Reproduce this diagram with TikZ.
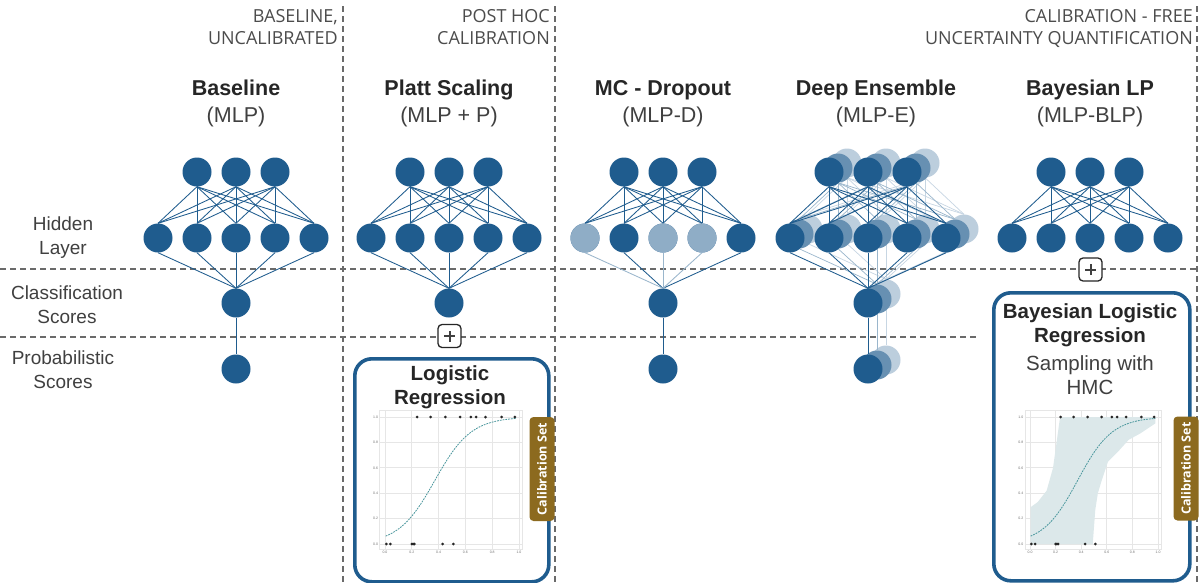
\documentclass[tikz,border=0pt]{standalone}
\usepackage{fontspec}
\setmainfont{Liberation Sans}
\newfontfamily\hdrfont{Open Sans}
\usetikzlibrary{calc}
\definecolor{nb}{HTML}{1F5C8E}
\definecolor{txt}{HTML}{404040}
\definecolor{hdrc}{HTML}{4C4C4C}
\definecolor{dashc}{HTML}{6A6A6A}
\definecolor{goldc}{HTML}{8C6A1F}
\definecolor{tealc}{HTML}{4A979D}
\definecolor{bandc}{HTML}{DCE8EA}
\definecolor{gridc}{HTML}{E6E6E6}

\newcommand\netlayers[5]{%
 \foreach \i in {1,2,3} {\node[neuron,#4] (#1t\i) at ({#2+(\i-2)*39},{172+#3}) {};}
 \foreach \i in {1,...,5} {\node[neuron,#4] (#1h\i) at ({#2+(\i-3)*39},{238+#3}) {};}
 \foreach \i in {1,2,3} {\foreach \j in {1,...,5} {\draw[#5] (#1t\i.south) -- (#1h\j.north);}}
}
\newcommand\netout[5]{%
 \node[neuron,#4] (#1c) at (#2,{303+#3}) {};
 \foreach \j in {1,...,5} {\draw[#5] (#1h\j.south) -- (#1c.north);}
}
\newcommand\netprob[5]{%
 \node[neuron,#4] (#1p) at (#2,{369+#3}) {};
 \draw[#5] (#1c.south) -- (#1p.north);
}
\newcommand\sigcurve{\draw[tealc, dash pattern=on 1.8pt off 1pt, line width=0.8pt, domain=0.005:0.98, samples=60] plot (\x, {1/(1+exp(-(-2.75+7.4*\x)))});}
\newcommand\calframe{%
 \fill[white] (-0.04,-0.045) rectangle (1.025,1.05);
 \foreach \v in {0,0.2,0.4,0.6,0.8,1} {\draw[gridc, line width=0.7pt] (\v,-0.045) -- (\v,1.05); \draw[gridc, line width=0.7pt] (-0.04,\v) -- (1.025,\v);}
 \draw[gridc, line width=0.7pt] (-0.04,-0.045) rectangle (1.025,1.05);
 \foreach \v/\l in {0/0.0,0.2/0.2,0.4/0.4,0.6/0.6,0.8/0.8,1/1.0} {\node[ticklab, anchor=east] at (-0.045,\v) {\l}; \node[ticklab, anchor=north] at (\v,-0.05) {\l};}
}
\newcommand\caldots{%
 \foreach \u in {0.24,0.34,0.45,0.56,0.64,0.68,0.75,0.87,0.97} {\fill[black!85] (\u,1) circle (1.5pt);}
 \foreach \u in {0.01,0.04,0.2,0.21,0.22,0.43,0.51} {\fill[black!85] (\u,0) circle (1.5pt);}
}

\begin{document}
\begin{tikzpicture}[x=1pt,y=-1pt,
 neuron/.style={circle, fill=nb, minimum size=29pt, inner sep=0pt},
 edge/.style={nb, line width=0.85pt},
 sepline/.style={dashc, line width=1.1pt, dash pattern=on 6pt off 4pt},
 hdr/.style={text=hdrc, font=\hdrfont\fontsize{18}{20}\selectfont, inner sep=0pt},
 ttl/.style={text=black!85, font=\bfseries\fontsize{21.5}{23}\selectfont, inner sep=0pt, anchor=base},
 sub/.style={text=txt, font=\fontsize{21.5}{23}\selectfont, inner sep=0pt, anchor=base},
 bxt/.style={text=black!85, font=\bfseries\fontsize{20.5}{22}\selectfont, inner sep=0pt, anchor=base},
 bxs/.style={text=txt, font=\fontsize{20.5}{22}\selectfont, inner sep=0pt, anchor=base},
 lbl/.style={text=txt, font=\fontsize{19}{21}\selectfont, inner sep=0pt, anchor=base},
 boxst/.style={draw=nb, line width=3.6pt, rounded corners=17pt, fill=white, inner sep=0pt},
 tabst/.style={fill=goldc, text=white, rounded corners=4pt, inner sep=0pt, minimum height=25pt, minimum width=104pt, font=\hdrfont\bfseries\fontsize{12.5}{12.5}\selectfont},
 ticklab/.style={text=black!55, font=\fontsize{3.5}{4}\selectfont, inner sep=0.8pt},
 plusbox/.style={draw=black!85, line width=1.3pt, rounded corners=4pt, fill=white, minimum size=23pt, inner sep=0pt,
   path picture={\draw[line width=2pt, black!75] ([xshift=-5.5pt]path picture bounding box.center) -- ([xshift=5.5pt]path picture bounding box.center) ([yshift=-5.5pt]path picture bounding box.center) -- ([yshift=5.5pt]path picture bounding box.center);}}
]
\useasboundingbox[fill=white] (0,0) rectangle (1201,582);

% separators
\coordinate (v1a) at (343,6); \coordinate (v1b) at (343,582);
\coordinate (v2a) at (555,6); \coordinate (v2b) at (555,582);
\coordinate (v3a) at (1197,6); \coordinate (v3b) at (1197,582);
\coordinate (h1a) at (0,269); \coordinate (h1b) at (1199,269);
\coordinate (h2a) at (0,337); \coordinate (h2b) at (976,337);
\draw[sepline] (v1a) -- (v1b);
\draw[sepline] (v2a) -- (v2b);
\draw[sepline] (v3a) -- (v3b);
\draw[sepline] (h1a) -- (h1b);
\draw[sepline] (h2a) -- (h2b);

% headers
\node[hdr, anchor=base east] (hd1a) at (338,22.5) {BASELINE,};
\node[hdr, anchor=base east] (hd1b) at (338,44.5) {UNCALIBRATED};
\node[hdr, anchor=base east] (hd2a) at (550,22.5) {POST HOC};
\node[hdr, anchor=base east] (hd2b) at (550,44.5) {CALIBRATION};
\node[hdr, anchor=base east] (hd3a) at (1193,22.5) {CALIBRATION - FREE};
\node[hdr, anchor=base east] (hd3b) at (1193,44.5) {UNCERTAINTY QUANTIFICATION};

% titles
\node[ttl] (t1) at (236,95) {Baseline};
\node[sub] (s1) at (236,122.5) {(MLP)};
\node[ttl] (t2) at (449,95) {Platt Scaling};
\node[sub] (s2) at (449,122.5) {(MLP + P)};
\node[ttl] (t3) at (663,95) {MC - Dropout};
\node[sub] (s3) at (663,122.5) {(MLP-D)};
\node[ttl] (t4) at (876,95) {Deep Ensemble};
\node[sub] (s4) at (876,122.5) {(MLP-E)};
\node[ttl] (t5) at (1090,95) {Bayesian LP};
\node[sub] (s5) at (1090,122.5) {(MLP-BLP)};

% left labels
\node[lbl] (l1) at (63,230) {Hidden};
\node[lbl] (l2) at (63,254) {Layer};
\node[lbl] (l3) at (67,299) {Classification};
\node[lbl] (l4) at (67,323) {Scores};
\node[lbl] (l5) at (63,364) {Probabilistic};
\node[lbl] (l6) at (63,388) {Scores};

% Baseline
\netlayers{a}{236}{0}{}{edge}
\netout{a}{236}{0}{}{edge}
\netprob{a}{236}{0}{}{edge}

% Platt
\netlayers{b}{449}{0}{}{edge}
\netout{b}{449}{0}{}{edge}

% MC dropout
\netlayers{d}{663}{0}{}{edge}
\foreach \j in {1,3,4} {\node[neuron, fill=nb!50] at (dh\j) {};}
\node[neuron] (dc) at (663,303) {};
\foreach \j in {2,5} {\draw[edge] (dh\j.south) -- (dc.north);}
\foreach \j in {1,3,4} {\draw[nb!45, line width=0.85pt] (dh\j.south) -- (dc.north);}
\netprob{d}{663}{0}{}{edge}

% Deep ensemble
\netlayers{gg}{886}{-9}{fill=nb!30}{nb!25, line width=0.7pt}
\netout{gg}{886}{-9}{fill=nb!30}{nb!25, line width=0.7pt}
\netprob{gg}{886}{-9}{fill=nb!30}{nb!25, line width=0.7pt}
\netlayers{g}{877}{-4}{fill=nb!68}{nb!45, line width=0.7pt}
\netout{g}{877}{-4}{fill=nb!68}{nb!45, line width=0.7pt}
\netprob{g}{877}{-4}{fill=nb!68}{nb!45, line width=0.7pt}
\netlayers{e}{868}{0}{}{edge}
\netout{e}{868}{0}{}{edge}
\netprob{e}{868}{0}{}{edge}

% Bayesian LP
\netlayers{f}{1090}{0}{}{edge}

% Platt box
\node[boxst, anchor=north west, minimum width=194pt, minimum height=223pt] (pbox) at (353,357) {};
\node[bxt] (pt1) at (450,380) {Logistic};
\node[bxt] (pt2) at (450,404) {Regression};
\begin{scope}[shift={(385,544)}, x=134pt, y=127pt]
 \calframe
 \sigcurve
 \caldots
\end{scope}
\node[tabst, rotate=90] (cs1) at (542,469) {Calibration Set};
\node[plusbox] (pl1) at (449.5,336) {};

% Bayesian box
\node[boxst, anchor=north west, minimum width=196pt, minimum height=288pt] (bbox) at (992,291) {};
\node[bxt] (bt1) at (1090,318) {Bayesian Logistic};
\node[bxt] (bt2) at (1090,342) {Regression};
\node[bxs] (bt3) at (1090,370) {Sampling with};
\node[bxs] (bt4) at (1090,394) {HMC};
\begin{scope}[shift={(1030,544)}, x=128pt, y=127pt]
 \calframe
 \fill[bandc] plot coordinates {(0.005,0.29) (0.06,0.33) (0.13,0.42) (0.18,0.6) (0.235,1.0) (0.98,1.0) (0.98,0.95) (0.86,0.87) (0.77,0.82) (0.69,0.73) (0.61,0.65) (0.56,0.5) (0.53,0.4) (0.51,0.27) (0.49,0.0) (0.005,0.0)} -- cycle;
 \sigcurve
 \caldots
\end{scope}
\node[tabst, rotate=90] (cs2) at (1186,468.5) {Calibration Set};
\node[plusbox] (pl2) at (1090.5,269.5) {};
\end{tikzpicture}
\end{document}
